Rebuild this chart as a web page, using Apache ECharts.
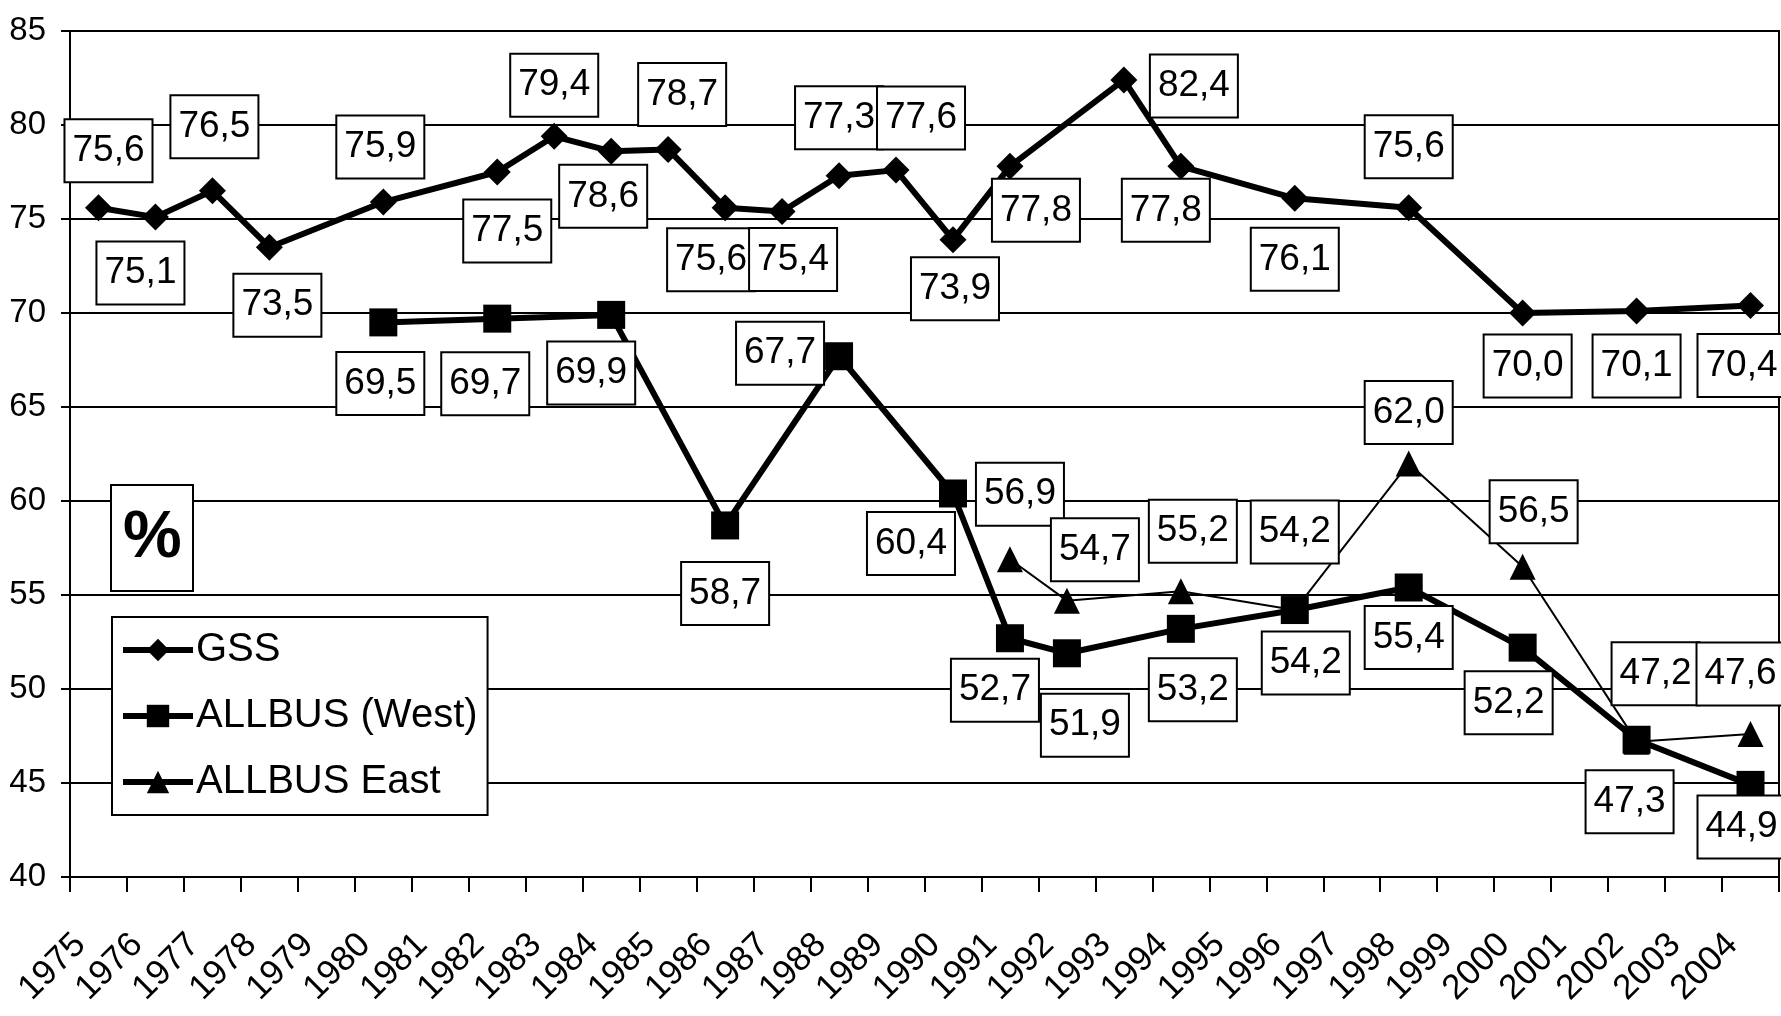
<!DOCTYPE html>
<html>
<head>
<meta charset="utf-8">
<script src="https://cdn.jsdelivr.net/npm/echarts@6/dist/echarts.min.js"></script>
<style>
html,body{margin:0;padding:0;background:#fff;}
#chart{width:1781px;height:1016px;}
</style>
</head>
<body>
<div id="chart"></div>
<script>
// ---- data ----
const years = ['1975','1976','1977','1978','1979','1980','1981','1982','1983','1984','1985','1986','1987','1988','1989','1990','1991','1992','1993','1994','1995','1996','1997','1998','1999','2000','2001','2002','2003','2004'];
const gss = [75.6,75.1,76.5,73.5,null,75.9,null,77.5,79.4,78.6,78.7,75.6,75.4,77.3,77.6,73.9,77.8,null,82.4,77.8,null,76.1,null,75.6,null,70.0,null,70.1,null,70.4];
const allbusWest = [null,null,null,null,null,69.5,null,69.7,null,69.9,null,58.7,null,67.7,null,60.4,52.7,51.9,null,53.2,null,54.2,null,55.4,null,52.2,null,47.3,null,44.9];
const allbusEast = [null,null,null,null,null,null,null,null,null,null,null,null,null,null,null,null,56.9,54.7,null,55.2,null,54.2,null,62.0,null,56.5,null,47.2,null,47.6];
const seriesNames = ['GSS','ALLBUS (West)','ALLBUS East'];
const yTicks = {min:40, max:85, step:5};

// ---- label placement (style only: pixel offsets of the boxes) ----
const gssOff = {1975:[10,-57],1976:[-15,56],1977:[2,-64],1978:[8,58],1980:[-3,-55],1982:[10,59],1983:[0,-51],1984:[-8,45],1985:[14,-55],1986:[-14,52],1987:[11,48],1988:[0,-58],1989:[25,-52],1990:[2,49],1991:[26,44],1993:[70,6],1994:[-15,44],1996:[0,61],1998:[0,-61],2000:[5,53],2002:[0,55],2004:[-9,60]};
const westOff = {1980:[-3,61],1982:[-12,65],1984:[-20,58],1986:[0,68],1988:[-59,-3],1990:[-42,50],1991:[-15,52],1992:[18,72],1994:[12,61],1996:[11,53],1998:[0,50],2000:[-14,55],2002:[-7,62],2004:[-9,42]};
const eastOff = {1991:[10,-65],1992:[28,-51],1994:[12,-60],1996:[0,-78],1998:[0,-51],2000:[11,-55],2002:[19,-68],2004:[-10,-60]};

const FONT = "'Liberation Sans', Arial, sans-serif";
const fmt = v => Number(v).toFixed(1).replace('.', ',');

function build(values, offs) {
  return values.map((v, i) => {
    if (v === null) return null;
    const o = offs[years[i]] || [0, 0];
    return { value: v, label: { offset: o } };
  });
}

const labelStyle = {
  show: true,
  position: 'inside',
  formatter: p => fmt(p.value),
  fontFamily: FONT,
  fontSize: 37,
  lineHeight: 44,
  color: '#000',
  backgroundColor: '#fff',
  borderColor: '#000',
  borderWidth: 2,
  padding: [9, 7, 8, 7]
};

const chart = echarts.init(document.getElementById('chart'), null, {renderer: 'canvas'});
chart.setOption({
  backgroundColor: '#fff',
  animation: false,
  title: {
    text: '%',
    left: 111, top: 485,
    backgroundColor: '#fff',
    borderColor: '#000',
    borderWidth: 2,
    padding: [16, 12, 14, 12],
    textStyle: {fontFamily: FONT, fontSize: 66, lineHeight: 76, fontWeight: 'bold', color: '#000'}
  },
  legend: {
    orient: 'vertical',
    left: 112, top: 617,
    backgroundColor: '#fff',
    borderColor: '#000',
    borderWidth: 2,
    borderRadius: 0,
    padding: [8, 10, 8, 8],
    itemWidth: 70,
    itemHeight: 28,
    itemGap: 16,
    data: seriesNames,
    lineStyle: {width: 6, color: '#000'},
    textStyle: {fontFamily: FONT, fontSize: 40, lineHeight: 50, color: '#000', padding: [0,0,0,-2]}
  },
  grid: {
    left: 70, right: 2, top: 31, bottom: 139,
    show: true, borderColor: '#000', borderWidth: 2, backgroundColor: 'transparent'
  },
  xAxis: {
    type: 'category',
    data: years,
    boundaryGap: true,
    axisLine: {lineStyle: {color: '#000', width: 2}},
    axisTick: {show: true, length: 15, lineStyle: {color: '#000', width: 2}},
    axisLabel: {interval: 0, rotate: 45, margin: 44, padding: [0, 26, 0, 0], fontFamily: FONT, fontSize: 35, color: '#000'},
    splitLine: {show: false}
  },
  yAxis: {
    type: 'value',
    min: yTicks.min, max: yTicks.max, interval: yTicks.step,
    axisLine: {show: true, lineStyle: {color: '#000', width: 2}},
    axisTick: {show: true, length: 9, lineStyle: {color: '#000', width: 2}},
    axisLabel: {margin: 24, fontFamily: FONT, fontSize: 33, color: '#000'},
    splitLine: {lineStyle: {color: '#000', width: 2}}
  },
  series: [
    {
      name: seriesNames[0], type: 'line', data: build(gss, gssOff), connectNulls: true,
      symbol: 'diamond', symbolSize: 27,
      lineStyle: {color: '#000', width: 6}, itemStyle: {color: '#000'},
      label: labelStyle, z: 3
    },
    {
      name: seriesNames[1], type: 'line', data: build(allbusWest, westOff), connectNulls: true,
      symbol: 'rect', symbolSize: 28,
      lineStyle: {color: '#000', width: 6}, itemStyle: {color: '#000'},
      label: labelStyle, z: 3
    },
    {
      name: seriesNames[2], type: 'line', data: build(allbusEast, eastOff), connectNulls: true,
      symbol: 'triangle', symbolSize: 26,
      lineStyle: {color: '#000', width: 2}, itemStyle: {color: '#000'},
      label: labelStyle, z: 2
    }
  ]
});
</script>
</body>
</html>
